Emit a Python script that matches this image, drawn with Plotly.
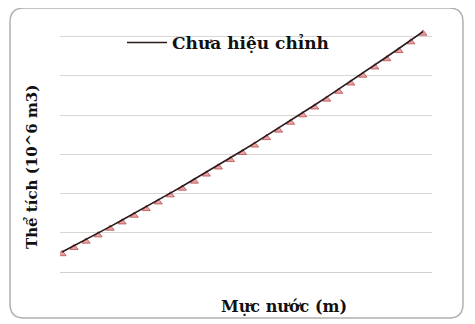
import plotly.graph_objects as go

# Water level (m) and volume (10^6 m3)
muc_nuoc = [110, 111, 112, 113, 114, 115, 116, 117, 118, 119, 120,
            121, 122, 123, 124, 125, 126, 127, 128, 129, 130,
            131, 132, 133, 134, 135, 136, 137, 138, 139, 140]
chua_hieu_chinh = [51.1, 66.9, 83.0, 99.3, 115.7, 132.4, 149.2, 166.3, 183.5, 201.0, 218.6,
                   236.5, 254.5, 272.7, 291.2, 309.8, 328.6, 347.6, 366.8, 386.2, 405.8,
                   425.7, 445.6, 465.8, 486.2, 506.8, 527.6, 548.6, 569.7, 591.1, 612.7]
sau_hieu_chinh = [46, 62, 78, 94, 111, 127, 144, 161, 178, 196, 213,
                  231, 249, 267, 286, 304, 323, 342, 361, 381, 400,
                  420, 440, 460, 481, 501, 522, 543, 564, 586, 608]

W, H = 475, 324
OFF = 8  # page body margin offset
ML, MT, PW, PH = 60 - OFF, 17 - OFF, 372, 255
MR, MB = W - ML - PW, H - MT - PH

def px(x):
    return (x - OFF - ML) / PW

def py(y):
    return (MT + PH - (y - OFF)) / PH

FONT = "DejaVu Serif"

fig = go.Figure()
fig.add_trace(go.Scatter(
    x=muc_nuoc, y=sau_hieu_chinh, mode="markers", showlegend=False,
    marker=dict(symbol="triangle-up", size=7, color="#f0a0a0",
                line=dict(color="#b05050", width=0.8)),
))
fig.add_trace(go.Scatter(
    x=muc_nuoc, y=chua_hieu_chinh, mode="lines", name="<b>Chưa hiệu chỉnh</b>",
    line=dict(color="#2a1a1a", width=1.6),
))

# rounded border around the whole chart
x0, x1, y0, y1, r = 10, 463, 8, 318, 14
path = (f"M {px(x0 + r)},{py(y0)} L {px(x1 - r)},{py(y0)} "
        f"Q {px(x1)},{py(y0)} {px(x1)},{py(y0 + r)} "
        f"L {px(x1)},{py(y1 - r)} Q {px(x1)},{py(y1)} {px(x1 - r)},{py(y1)} "
        f"L {px(x0 + r)},{py(y1)} Q {px(x0)},{py(y1)} {px(x0)},{py(y1 - r)} "
        f"L {px(x0)},{py(y0 + r)} Q {px(x0)},{py(y0)} {px(x0 + r)},{py(y0)} Z")
fig.add_shape(type="path", path=path, xref="paper", yref="paper",
              line=dict(color="#b0b0b0", width=1.5), layer="below")

fig.update_layout(
    width=W, height=H,
    margin=dict(l=ML, r=MR, t=MT, b=MB),
    paper_bgcolor="white", plot_bgcolor="white",
    font=dict(family=FONT, color="#111"),
    xaxis=dict(range=[109.83, 140.75], showgrid=False, showticklabels=False,
               zeroline=False, showline=True, linecolor="#d0d0d0", linewidth=1,
               ticks=""),
    yaxis=dict(range=[0, 650], dtick=100, showgrid=True, gridcolor="#d6d6d6",
               gridwidth=1, showticklabels=False, zeroline=False, ticks=""),
    legend=dict(x=px(122), y=py(43), xanchor="left", yanchor="middle",
                bgcolor="rgba(0,0,0,0)", itemwidth=40,
                font=dict(family=FONT, size=17, color="#111")),
    annotations=[
        dict(text="<b>Mực nước (m)</b>", xref="paper", yref="paper",
             x=px(284), y=py(306), xanchor="center", yanchor="middle",
             showarrow=False, font=dict(family=FONT, size=16, color="#111")),
        dict(text="<b>Thể tích (10^6 m3)</b>", xref="paper", yref="paper",
             x=px(32), y=py(167), xanchor="center", yanchor="middle",
             textangle=-90, showarrow=False,
             font=dict(family=FONT, size=15, color="#111")),
    ],
)

fig.write_html("out.html")
